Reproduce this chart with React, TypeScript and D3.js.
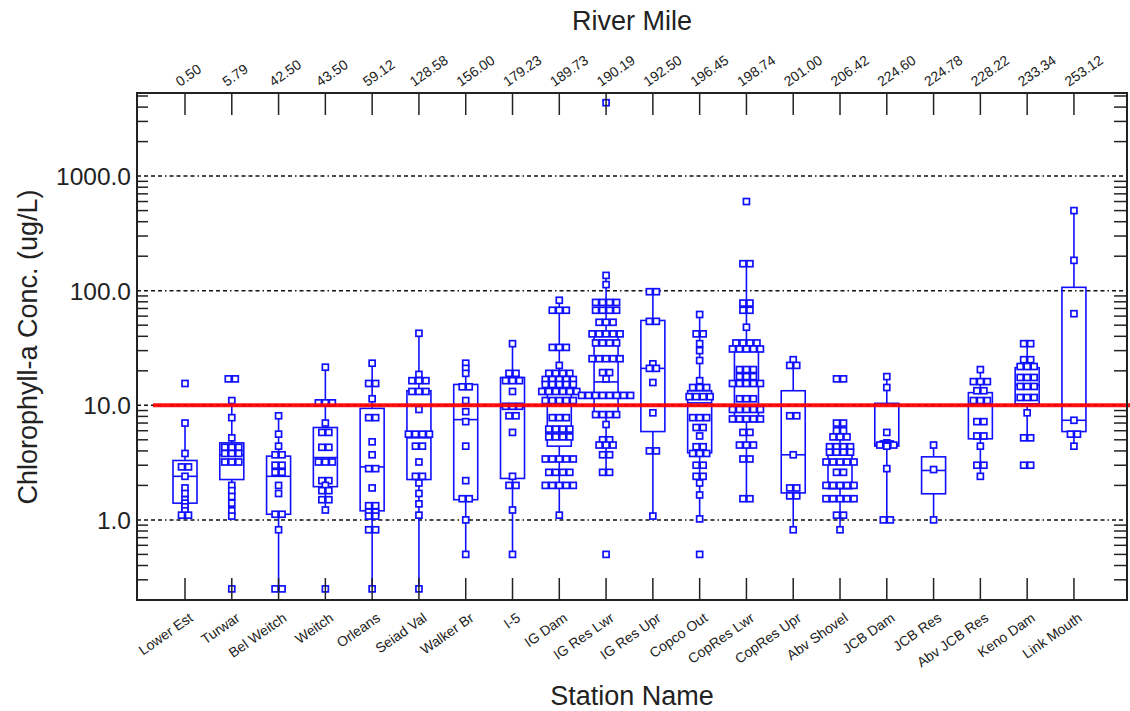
import * as d3 from "d3";

// Stations along the river (bottom axis) and their river miles (top axis)
const stations = [
  "Lower Est", "Turwar", "Bel Weitch", "Weitch", "Orleans", "Seiad Val", "Walker Br", "I-5",
  "IG Dam", "IG Res Lwr", "IG Res Upr", "Copco Out", "CopRes Lwr", "CopRes Upr", "Abv Shovel",
  "JCB Dam", "JCB Res", "Abv JCB Res", "Keno Dam", "Link Mouth",
];
const riverMiles = [
  "0.50", "5.79", "42.50", "43.50", "59.12", "128.58", "156.00", "179.23", "189.73", "190.19",
  "192.50", "196.45", "198.74", "201.00", "206.42", "224.60", "224.78", "228.22", "233.34", "253.12",
];

// Chlorophyll-a samples per station (ug/L)
const chla: number[][] = [
  [15.5, 7, 3.8, 2.9, 2.9, 2.4, 1.9, 1.7, 1.5, 1.4, 1.3, 1.2, 1.1, 1.1],
  [17, 17, 11, 7.8, 5.2, 4.3, 4.3, 4.3, 3.8, 3.8, 3.8, 3.2, 3.2, 3.2, 2.0, 1.8, 1.6, 1.4, 1.2, 1.08, 0.25],
  [8.1, 5.6, 4.4, 3.7, 3.7, 3.0, 3.0, 2.6, 2.6, 2.0, 1.7, 1.12, 1.12, 0.82, 0.25, 0.25],
  [21.5, 10.5, 10.5, 10.5, 7, 5.8, 5.8, 4.3, 4.3, 3.2, 3.2, 3.2, 2.2, 2.2, 2.0, 1.8, 1.8, 1.5, 1.5, 1.22, 0.25],
  [23.3, 15.5, 15.5, 11.4, 7.8, 7.8, 4.8, 3.7, 2.8, 2.8, 1.9, 1.33, 1.33, 1.17, 1.17, 1.08, 1.08, 0.82, 0.82, 0.25],
  [42.5, 18.6, 16.4, 16.4, 16.4, 13.2, 13.2, 13.2, 9.2, 5.6, 5.6, 5.6, 5.6, 4.4, 4.4, 3.2, 2.4, 2.4, 2.1, 1.7, 1.38, 1.1, 0.25],
  [23.3, 21, 19, 14.5, 14.5, 11, 8.8, 7.2, 4.4, 2.2, 1.53, 1.53, 1.0, 0.5],
  [34.5, 19, 19, 16.4, 16.4, 16.4, 13.2, 9.8, 9.8, 9.8, 8.1, 8.1, 5.8, 2.4, 2.0, 2.0, 1.22, 0.5],
  [82.5, 67.5, 67.5, 67.5, 32, 32, 32, 22.3, 19, 19, 19, 19, 16.8, 16.8, 16.8, 16.8, 16.8,
    15.2, 15.2, 15.2, 15.2, 15.2, 13.2, 13.2, 13.2, 13.2, 13.2, 13.2, 11, 11, 11, 11, 11,
    7.8, 7.8, 7.8, 6.2, 6.2, 6.2, 6.2, 5.3, 5.3, 5.3, 5.3, 3.4, 3.4, 3.4, 3.4, 3.4,
    2.6, 2.6, 2.6, 2.6, 2.0, 2.0, 2.0, 2.0, 2.0, 1.1],
  [4370, 136, 113, 79, 79, 79, 79, 67.5, 67.5, 67.5, 67.5, 53, 53, 53, 42, 42, 42, 42, 42,
    35, 35, 35, 35, 25.5, 25.5, 25.5, 25.5, 25.5, 19.3, 19.3, 17,
    12.2, 12.2, 12.2, 12.2, 12.2, 12.2, 12.2, 12.2, 8.3, 8.3, 8.3, 8.3, 6.8,
    5.0, 5.0, 4.5, 4.5, 4.5, 3.7, 3.7, 2.6, 2.6, 0.5],
  [98, 98, 54, 54, 23, 21, 21, 15.8, 8.6, 4.0, 4.0, 1.08],
  [62, 42, 42, 34.5, 30, 24.6, 16.4, 14.3, 14.3, 14.3, 11.9, 11.9, 11.9, 11.9, 7.8, 7.8, 7.8,
    6.4, 6.4, 5.4, 4.35, 4.35, 3.8, 3.8, 3.8, 3.0, 3.0, 2.4, 2.4, 2.1, 1.65, 1.02, 0.5],
  [600, 172, 172, 78, 78, 67.5, 67.5, 48, 35, 35, 35, 35, 31, 31, 31, 31, 31,
    20.5, 20.5, 20.5, 17.8, 17.8, 17.8, 15.5, 15.5, 15.5, 15.5, 15.5, 11.4, 11.4, 11.4,
    9.2, 9.2, 9.2, 9.2, 9.2, 7.6, 7.6, 7.6, 7.6, 7.6, 5.8, 5.8, 4.5, 4.5, 4.5, 3.4, 3.4, 1.53, 1.53],
  [25, 22.3, 22.3, 8.1, 8.1, 3.7, 1.9, 1.9, 1.62, 1.62, 0.82],
  [17, 17, 7.0, 7.0, 6.0, 6.0, 5.3, 5.3, 5.3, 4.35, 4.35, 4.35, 4.35, 3.9, 3.9, 3.9, 3.9,
    3.2, 3.2, 3.2, 3.2, 3.2, 2.6, 2.6, 2.0, 2.0, 2.0, 2.0, 2.0, 1.53, 1.53, 1.53, 1.53, 1.53, 1.1, 1.1, 0.82],
  [17.8, 14.3, 5.8, 4.7, 4.6, 4.6, 4.5, 4.5, 4.5, 4.4, 2.8, 1.0, 1.0],
  [4.5, 2.75, 1.0],
  [20.5, 16.1, 16.1, 16.1, 13.4, 13.4, 11, 11, 11, 7.2, 7.2, 5.4, 5.4, 4.4, 3.0, 3.0, 2.4],
  [34.5, 34.5, 25, 25, 21.8, 21.8, 21.8, 17.5, 17.5, 17.5, 14.6, 14.6, 14.6, 11.7, 11.7, 11.7, 8.6, 5.2, 5.2, 3.0, 3.0],
  [500, 184, 63, 7.4, 5.6, 5.6, 4.4],
];

// Box statistics as drawn
const q1 = [1.4, 2.25, 1.12, 1.95, 1.2, 2.25, 1.5, 2.3, 4.4, 7.9, 5.9, 3.85, 7.2, 1.72, 1.87, 4.4, 1.69, 5.1, 10.3, 5.9];
const median = [2.4, 3.7, 2.4, 3.5, 2.9, 5.2, 7.5, 9.6, 10.8, 16, 21, 10.5, 16, 3.7, 3.1, 4.6, 2.7, 10.3, 15, 7.4];
const q3 = [3.3, 4.7, 3.6, 6.4, 9.4, 13.4, 15.2, 17.5, 17, 43, 55, 13.4, 35, 13.4, 4.5, 10.4, 3.55, 12.9, 21.3, 107];
const whiskerLo = [1.1, 1.08, 0.25, 1.22, 0.25, 0.25, 0.5, 0.5, 1.1, 2.6, 1.08, 1.02, 1.53, 0.82, 0.82, 1.0, 1.0, 2.4, 5.2, 4.4];
const whiskerHi = [7.0, 11, 8.1, 21.5, 23.3, 42.5, 23.3, 34.5, 82.5, 136, 98, 62, 172, 25, 7.0, 18, 4.5, 20.5, 34.5, 500];

const yMajor = [1, 10, 100, 1000];
const criterion = 10;

const W = 1130;
const H = 711;
const LEFT = 137;
const RIGHT = 1127;
const TOP = 93;
const BOTTOM = 600;
const BLUE = "#1010ff";
const FONT = "'Liberation Sans', Arial, sans-serif";

export default function App() {
  const x = d3.scalePoint<string>().domain(stations).range([LEFT, RIGHT]).padding(1.08).align(0.475);
  const y = d3.scaleLog().domain([0.2, 5000]).range([BOTTOM, TOP + 3]);

  const minorTicks = y.ticks().filter((t) => !yMajor.includes(t) && t > 0.2);
  const boxHalf = 12;
  const sq = 6;
  const gap = 7;

  // stack identical values side by side
  const points: { cx: number; cy: number; key: string }[] = [];
  chla.forEach((vals, i) => {
    const cx0 = x(stations[i])!;
    const groups = d3.group(vals, (v) => v);
    groups.forEach((arr, v) => {
      arr.forEach((_, j) => {
        points.push({
          cx: cx0 + (j - (arr.length - 1) / 2) * gap,
          cy: y(v),
          key: `${i}-${v}-${j}`,
        });
      });
    });
  });

  return (
    <svg width={W} height={H} style={{ position: "absolute", left: 0, top: 0, background: "#fff" }} fontFamily={FONT}>
      {/* grid */}
      {yMajor.map((t) => (
        <line key={t} x1={LEFT} x2={RIGHT} y1={y(t)} y2={y(t)} stroke="#111" strokeWidth={1.5}
          strokeDasharray="4,3,4,3,4,3,4,3,1.5,3" />
      ))}

      {/* boxes and whiskers */}
      {stations.map((s, i) => {
        const cx = x(s)!;
        return (
          <g key={s} stroke={BLUE} strokeWidth={1.6} fill="none">
            <line x1={cx} x2={cx} y1={y(whiskerHi[i])} y2={y(q3[i])} />
            <line x1={cx} x2={cx} y1={y(q1[i])} y2={y(whiskerLo[i])} />
            <rect x={cx - boxHalf} y={y(q3[i])} width={boxHalf * 2} height={y(q1[i]) - y(q3[i])} />
            <line x1={cx - boxHalf} x2={cx + boxHalf} y1={y(median[i])} y2={y(median[i])} />
          </g>
        );
      })}

      {/* samples */}
      {points.map((p) => (
        <rect key={p.key} x={p.cx - sq / 2} y={p.cy - sq / 2} width={sq} height={sq}
          fill="#fff" stroke={BLUE} strokeWidth={1.7} />
      ))}

      {/* criterion line */}
      <line x1={LEFT + 16} x2={W} y1={y(criterion)} y2={y(criterion)} stroke="#ff0000" strokeWidth={4} opacity={0.92} />

      {/* frame */}
      <rect x={LEFT} y={TOP} width={RIGHT - LEFT} height={BOTTOM - TOP} fill="none" stroke="#222" strokeWidth={2} />

      {/* y ticks */}
      {minorTicks.map((t) => (
        <g key={t} stroke="#222" strokeWidth={1.5}>
          <line x1={LEFT} x2={LEFT + 11} y1={y(t)} y2={y(t)} />
          <line x1={RIGHT - 13} x2={RIGHT} y1={y(t)} y2={y(t)} />
        </g>
      ))}
      {yMajor.map((t) => (
        <text key={t} x={LEFT - 6} y={y(t)} dy="0.36em" textAnchor="end" fontSize={24.5} fill="#222">
          {t.toFixed(1)}
        </text>
      ))}

      {/* x ticks (bottom and top) */}
      {stations.map((s) => (
        <g key={s} stroke="#222" strokeWidth={1.5}>
          <line x1={x(s)} x2={x(s)} y1={BOTTOM} y2={BOTTOM - 22} />
          <line x1={x(s)} x2={x(s)} y1={TOP} y2={TOP + 22} />
        </g>
      ))}
      {stations.map((s) => (
        <text key={s} transform={`translate(${x(s)! + 9},620) rotate(-35)`} textAnchor="end" fontSize={14} fill="#222">
          {s}
        </text>
      ))}
      {riverMiles.map((m, i) => (
        <text key={i} transform={`translate(${x(stations[i])! - 5},87) rotate(-35)`} textAnchor="start" fontSize={14} fill="#222">
          {m}
        </text>
      ))}

      {/* titles */}
      <text x={(LEFT + RIGHT) / 2} y={30} textAnchor="middle" fontSize={27} fill="#222">River Mile</text>
      <text x={(LEFT + RIGHT) / 2} y={705} textAnchor="middle" fontSize={27} fill="#222">Station Name</text>
      <text transform={`translate(37,347) rotate(-90)`} textAnchor="middle" fontSize={27} fill="#222">
        Chlorophyll-a Conc. (ug/L)
      </text>
    </svg>
  );
}
